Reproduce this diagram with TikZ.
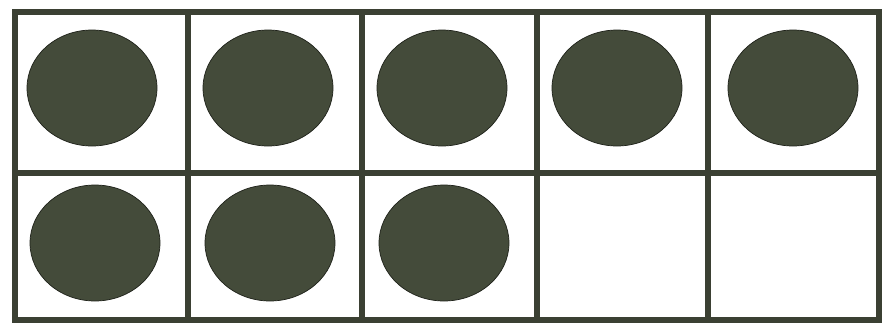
\documentclass[tikz,border=0pt]{standalone}
\usepackage{tikz}
\usetikzlibrary{positioning}
\definecolor{FrameOlive}{HTML}{3B4033}
\definecolor{DotOlive}{HTML}{444B3A}
\definecolor{DotEdge}{HTML}{1E2119}

\begin{document}
\begin{tikzpicture}[x=0.03cm, y=-0.03cm]
                \useasboundingbox (0,0) rectangle (883,330);
                % Cell borders
                \draw[line width=5.5pt, color=FrameOlive, line join=miter] (15,12) rectangle (879,320);
                \draw[line width=5.5pt, color=FrameOlive] (15,173) -- (879,173);
                \foreach \xs in {188, 362, 537, 708}
                    \draw[line width=5.5pt, color=FrameOlive] (\xs,12) -- (\xs,320);
                
                % Counters in the top row
                \foreach \xc in {92, 268, 442, 617, 793}
                    \filldraw[fill=DotOlive, draw=DotEdge, line width=0.6pt] (\xc,88) ellipse (65 and 58);
                
                % Counters in the bottom row
                \foreach \xc in {95, 270, 444}
                    \filldraw[fill=DotOlive, draw=DotEdge, line width=0.6pt] (\xc,243) ellipse (65 and 58);
            \end{tikzpicture}
\end{document}
